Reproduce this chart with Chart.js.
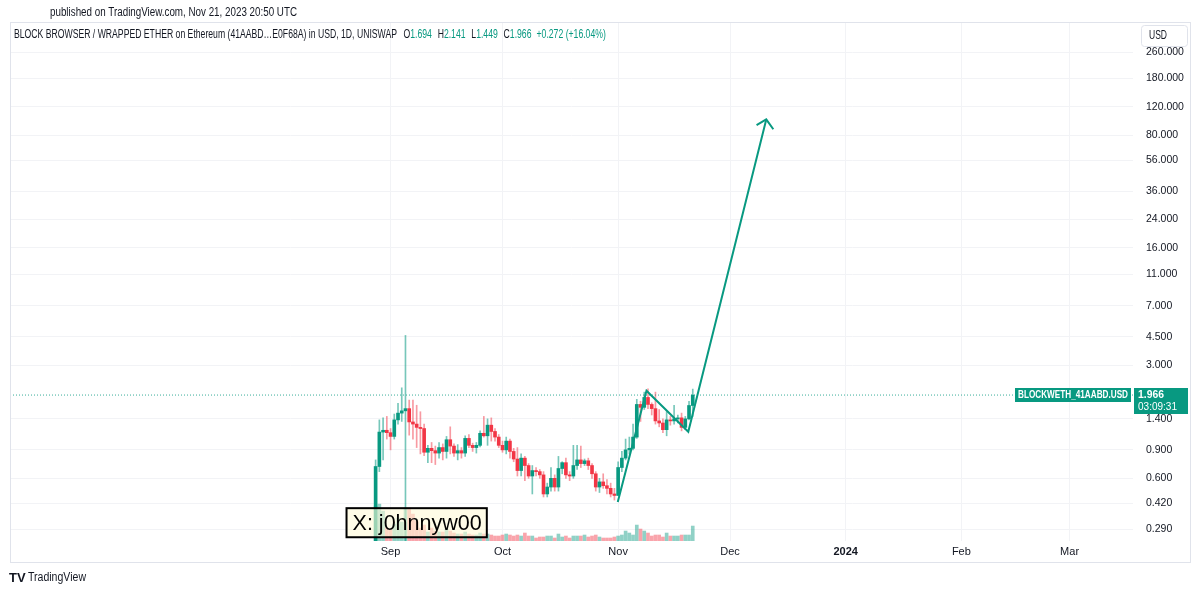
<!DOCTYPE html>
<html>
<head>
<meta charset="utf-8">
<script src="https://cdn.jsdelivr.net/npm/chart.js@4.4.0/dist/chart.umd.min.js"></script>
<style>
  html, body { margin: 0; background: #fff; }
  #wrap { width: 1200px; height: 592px; position: relative; }
</style>
</head>
<body>
<div id="wrap"><canvas id="chart"></canvas></div>
<script>
// daily candles, first one on 2023-08-28, one per day
const firstDay = '2023-08-28';
const opens  = [0.20,0.71,1.16,1.19,1.15,1.09,1.38,1.52,1.57,1.62,1.34,1.30,1.24,1.22,0.87,0.92,0.89,0.86,0.93,0.88,
                1.04,0.95,0.86,0.89,0.86,1.06,0.96,0.93,0.96,1.14,1.10,1.28,1.17,1.08,0.96,0.90,1.02,0.88,0.79,0.67,
                0.80,0.72,0.62,0.67,0.66,0.63,0.48,0.53,0.60,0.53,0.69,0.75,0.63,0.62,0.72,0.78,0.74,0.77,0.72,0.64,
                0.53,0.57,0.54,0.52,0.48,0.47,0.70,0.80,0.90,0.92,1.08,1.72,1.65,1.90,1.72,1.62,1.36,1.32,1.20,1.38,
                1.36,1.40,1.42,1.24,1.40,1.694];
const highs  = [0.78,1.38,1.42,1.45,1.22,1.50,1.75,2.18,4.60,1.83,1.83,1.70,1.55,1.30,0.96,1.00,0.95,1.00,0.98,1.09,
                1.25,0.98,0.97,0.93,1.10,1.12,0.99,1.00,1.18,1.45,1.40,1.42,1.22,1.12,1.02,1.08,1.05,0.92,0.93,0.85,
                0.82,0.74,0.72,0.70,0.68,0.66,0.56,0.70,0.63,0.82,0.76,0.80,0.66,0.96,0.96,0.95,0.79,0.80,0.74,0.66,
                0.60,0.64,0.59,0.56,0.52,0.76,0.88,1.05,1.08,1.30,1.85,1.80,2.05,2.15,1.76,2.05,1.60,1.40,1.55,1.45,
                1.70,1.48,1.52,1.45,1.80,2.141];
const lows   = [0.20,0.66,0.78,1.05,0.90,1.05,1.30,1.35,0.20,1.11,1.05,0.93,0.85,0.83,0.75,0.75,0.73,0.80,0.78,0.80,
                0.85,0.82,0.78,0.80,0.82,0.93,0.88,0.86,0.94,1.08,0.96,1.02,1.02,0.93,0.87,0.85,0.80,0.76,0.62,0.62,
                0.58,0.60,0.48,0.62,0.60,0.46,0.46,0.50,0.50,0.50,0.64,0.60,0.58,0.60,0.68,0.70,0.72,0.68,0.60,0.50,
                0.49,0.52,0.48,0.46,0.44,0.47,0.66,0.78,0.85,0.90,1.06,1.35,1.60,1.62,1.48,1.30,1.25,1.15,1.10,1.28,
                1.30,1.32,1.18,1.20,1.38,1.449];
const closes = [0.71,1.16,1.19,1.15,1.09,1.38,1.52,1.57,1.62,1.34,1.30,1.24,1.22,0.87,0.92,0.89,0.86,0.93,0.88,1.04,
                0.95,0.86,0.89,0.86,1.06,0.96,0.93,0.96,1.14,1.10,1.28,1.17,1.08,0.96,0.90,1.02,0.88,0.79,0.67,0.80,
                0.72,0.62,0.67,0.66,0.63,0.48,0.53,0.60,0.53,0.69,0.75,0.63,0.62,0.72,0.78,0.74,0.77,0.72,0.64,0.53,
                0.57,0.54,0.52,0.48,0.47,0.70,0.80,0.90,0.92,1.08,1.72,1.65,1.90,1.72,1.62,1.36,1.32,1.20,1.38,1.36,
                1.40,1.42,1.24,1.40,1.694,1.966];
const volumes = [3500,3700,3000,1300,1100,1700,2300,1900,3300,3300,2700,2000,1300,1600,900,1300,1000,900,900,1200,
                 1000,800,700,700,900,700,600,600,800,700,700,600,500,500,600,700,600,500,600,500,
                 800,500,500,300,400,400,500,500,300,700,400,500,300,500,500,500,600,400,500,600,
                 400,300,300,300,400,500,600,1000,800,600,1600,1200,1000,800,500,600,600,400,800,500,
                 500,500,600,600,600,1500];

const lastPrice = 1.966;
const priceTicks = [260, 180, 120, 80, 56, 36, 24, 16, 11, 7, 4.5, 3, 1.4, 0.9, 0.6, 0.42, 0.29];
const monthDates  = ['2023-09-01','2023-10-01','2023-11-01','2023-12-01','2024-01-01','2024-02-01','2024-03-01'];
const monthLabels = ['Sep','Oct','Nov','Dec','2024','Feb','Mar'];

// the drawn projection (days after firstDay, price)
const trendDays   = [64.9, 72.6, 83.8, 104.7];
const trendPrices = [0.428, 2.09, 1.165, 100];
const arrowDays   = [102.1, 104.7, 106.6];
const arrowPrices = [92.3, 100, 86.9];

const UP = '#089981', DOWN = '#f23645';
const FONT = '"Liberation Sans", sans-serif';
const dayOf = s => (Date.parse(s) - Date.parse(firstDay)) / 86400000;
const monthDays = monthDates.map(dayOf);
const isUp = opens.map((o, i) => closes[i] >= o);

// draw text squeezed to a given width (the reference font is narrower)
function squeezed(ctx, s, x, y, w) {
  const m = ctx.measureText(s).width;
  ctx.save();
  ctx.translate(x, y);
  ctx.scale(w / m, 1);
  ctx.fillText(s, 0, 0);
  ctx.restore();
}

const overlay = {
  id: 'overlay',
  afterDatasetsDraw(chart) {
    const { ctx, scales: { x, y } } = chart;
    // signature box
    const l = x.getPixelForValue(-7.8), r = x.getPixelForValue(29.8);
    const t = y.getPixelForValue(0.392), b = y.getPixelForValue(0.259);
    ctx.save();
    ctx.fillStyle = 'rgba(255,250,215,0.6)';
    ctx.fillRect(l, t, r - l, b - t);
    ctx.strokeStyle = '#000'; ctx.lineWidth = 2;
    ctx.strokeRect(l, t, r - l, b - t);
    ctx.fillStyle = '#000';
    ctx.font = '22px ' + FONT;
    ctx.textBaseline = 'middle';
    squeezed(ctx, 'X: j0hnnyw00', l + 6, (t + b) / 2 + 1, r - l - 11);
    ctx.restore();
  },
  afterDraw(chart) {
    const { ctx, chartArea: a, scales: { y } } = chart;
    ctx.save();
    // frame
    ctx.strokeStyle = '#e0e3eb'; ctx.lineWidth = 1;
    ctx.strokeRect(10.5, 22.5, 1180, 540);

    ctx.textBaseline = 'middle';
    ctx.fillStyle = '#131722';
    ctx.font = '12px ' + FONT;
    squeezed(ctx, 'published on TradingView.com, Nov 21, 2023 20:50 UTC', 50, 13, 247);

    // header row
    ctx.font = '12px ' + FONT;
    const title = 'BLOCK BROWSER / WRAPPED ETHER on Ethereum (41AABD…E0F68A) in USD, 1D, UNISWAP';
    const k = 383 / ctx.measureText(title).width;
    ctx.save();
    ctx.translate(14, 35); ctx.scale(k, 1);
    let px = 0;
    const put = (s, c, gap) => { ctx.fillStyle = c; ctx.fillText(s, px, 0); px += ctx.measureText(s).width + (gap || 0); };
    put(title, '#131722', 9);
    put('O', '#131722'); put('1.694', UP, 8);
    put('H', '#131722'); put('2.141', UP, 8);
    put('L', '#131722'); put('1.449', UP, 8);
    put('C', '#131722'); put('1.966', UP, 7);
    put('+0.272 (+16.04%)', UP);
    ctx.restore();

    // USD box
    ctx.fillStyle = '#fff';
    ctx.strokeStyle = '#e0e3eb';
    ctx.beginPath(); ctx.roundRect(1141.5, 25.5, 46, 21, 3); ctx.fill(); ctx.stroke();
    ctx.fillStyle = '#131722';
    ctx.font = '12px ' + FONT;
    squeezed(ctx, 'USD', 1149, 36, 18);

    // last price labels
    const py = Math.round(y.getPixelForValue(lastPrice));
    ctx.fillStyle = UP;
    ctx.fillRect(a.right - 118, py - 7, 116, 14);
    ctx.fillRect(a.right + 1, py - 7, 54, 26);
    ctx.fillStyle = '#fff';
    ctx.font = 'bold 11px ' + FONT;
    squeezed(ctx, 'BLOCKWETH_41AABD.USD', a.right - 115, py, 110);
    squeezed(ctx, '1.966', a.right + 5, py, 26);
    ctx.font = '11px ' + FONT;
    squeezed(ctx, '03:09:31', a.right + 5, py + 12, 39);

    // logo
    ctx.fillStyle = '#131722';
    ctx.font = 'bold 13px ' + FONT;
    ctx.fillText('TV', 9, 578);
    ctx.font = '12px ' + FONT;
    squeezed(ctx, 'TradingView', 28, 578, 58);
    ctx.restore();
  }
};

new Chart(document.getElementById('chart'), {
  data: {
    datasets: [
      {
        type: 'bar', yAxisID: 'yv', order: 10, grouped: false, barThickness: 3,
        data: volumes.map((v, i) => ({ x: i, y: v })),
        backgroundColor: isUp.map(u => u ? 'rgba(8,153,129,0.45)' : 'rgba(242,54,69,0.45)')
      },
      {
        type: 'bar', yAxisID: 'y', order: 5, grouped: false, barThickness: 1,
        data: lows.map((l, i) => ({ x: i, y: [l, highs[i]] })),
        backgroundColor: isUp.map(u => u ? 'rgba(8,153,129,0.55)' : 'rgba(242,54,69,0.5)')
      },
      {
        type: 'bar', yAxisID: 'y', order: 4, grouped: false, barThickness: 3, minBarLength: 1,
        data: opens.map((o, i) => ({ x: i, y: [o, closes[i]] })),
        backgroundColor: isUp.map(u => u ? UP : DOWN)
      },
      {
        type: 'line', yAxisID: 'y', order: 3,
        data: [{ x: -98, y: lastPrice }, { x: 203, y: lastPrice }],
        borderColor: 'rgba(8,153,129,0.8)', borderWidth: 1, borderDash: [1, 2], pointRadius: 0
      },
      {
        type: 'line', yAxisID: 'y', order: 1,
        data: trendDays.map((d, i) => ({ x: d, y: trendPrices[i] })),
        borderColor: UP, borderWidth: 2, pointRadius: 0, tension: 0
      },
      {
        type: 'line', yAxisID: 'y', order: 1,
        data: arrowDays.map((d, i) => ({ x: d, y: arrowPrices[i] })),
        borderColor: UP, borderWidth: 2, pointRadius: 0, tension: 0
      }
    ]
  },
  options: {
    responsive: true, maintainAspectRatio: false, animation: false,
    layout: { padding: { left: 10, right: 10, top: 23, bottom: 30 } },
    plugins: { legend: { display: false }, tooltip: { enabled: false } },
    scales: {
      x: {
        type: 'linear', min: -98, max: 203, offset: false,
        afterBuildTicks: s => { s.ticks = monthDays.map(v => ({ value: v })); },
        afterFit: s => { s.height = 21; },
        grid: { color: '#f2f3f6', drawTicks: false, offset: false },
        border: { display: false },
        ticks: {
          padding: 4, color: '#131722',
          font: c => ({ family: FONT, size: 11, weight: c.tick && c.tick.value === monthDays[4] ? 'bold' : 'normal' }),
          callback: v => monthLabels[monthDays.indexOf(v)] || ''
        }
      },
      y: {
        type: 'logarithmic', position: 'right', min: 0.2455, max: 395.4,
        afterBuildTicks: s => { s.ticks = priceTicks.map(v => ({ value: v })); },
        afterFit: s => { s.width = 57; },
        grid: { color: '#f2f3f6', drawTicks: false },
        border: { display: false },
        ticks: {
          padding: 13, color: '#131722',
          font: { family: FONT, size: 10.5 },
          callback: v => Number(v).toFixed(3)
        }
      },
      yv: { type: 'linear', display: false, min: 0, max: 52000 }
    }
  },
  plugins: [overlay]
});
</script>
</body>
</html>
